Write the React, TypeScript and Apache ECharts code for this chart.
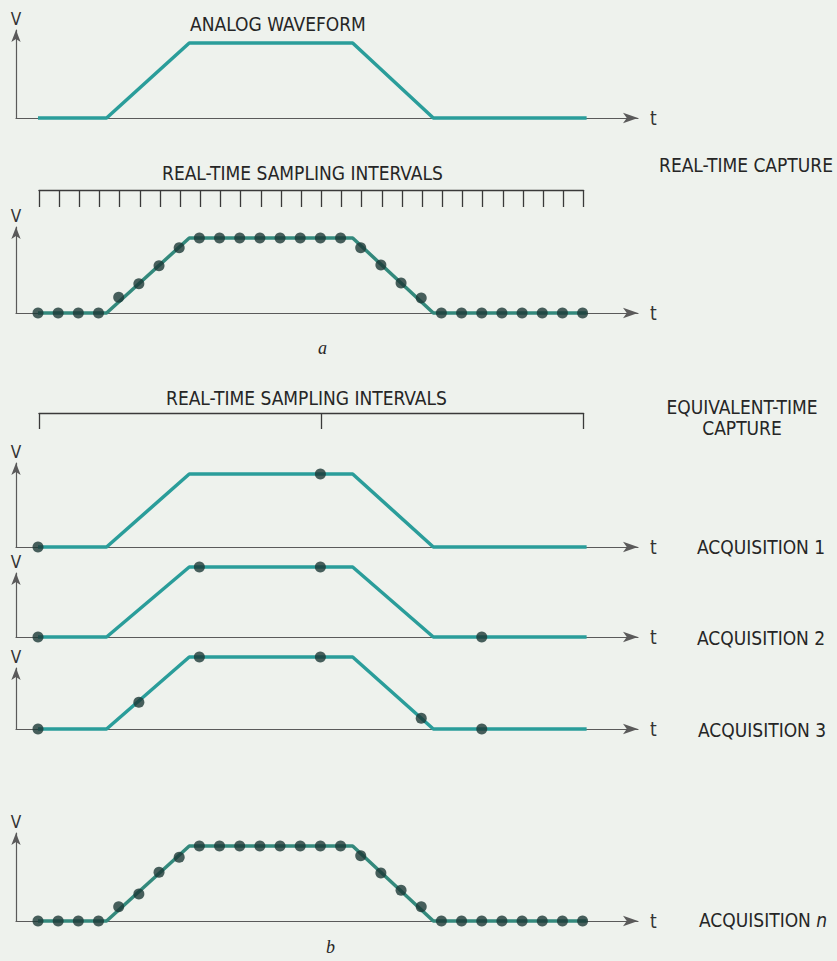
import React, { useEffect, useRef } from "react";
import * as echarts from "echarts";

// ---------- data ----------
// sample instants, one per real-time sampling interval
const sampleTimes = [0, 1, 2, 3, 4, 5, 6, 7, 8, 9, 10, 11, 12, 13, 14, 15, 16, 17, 18, 19, 20, 21, 22, 23, 24, 25, 26, 27];
// analog waveform breakpoints (time in sample units, level 0..1)
const waveTimes = [0, 3.4, 7.5, 15.6, 19.6, 27.2];
const waveLevels = [0, 0, 1, 1, 0, 0];
// real-time capture: one sample per interval
const realTimeLevels = [0, 0, 0, 0, 0.21, 0.39, 0.63, 0.87, 1, 1, 1, 1, 1, 1, 1, 1, 0.87, 0.64, 0.4, 0.2, 0, 0, 0, 0, 0, 0, 0, 0];
// equivalent-time capture: sampling interval (in sample units) and samples per acquisition
const equivalentInterval = 14;
const acq1Times = [0, 14];
const acq1Levels = [0, 1];
const acq2Times = [0, 8, 14, 22];
const acq2Levels = [0, 1, 1, 0];
const acq3Times = [0, 5, 8, 14, 19, 22];
const acq3Levels = [0, 0.37, 1, 1, 0.15, 0];
const acqNLevels = [0, 0, 0, 0, 0.19, 0.36, 0.65, 0.85, 1, 1, 1, 1, 1, 1, 1, 1, 0.87, 0.64, 0.41, 0.19, 0, 0, 0, 0, 0, 0, 0, 0];
const acquisitionLabels = ["ACQUISITION 1", "ACQUISITION 2", "ACQUISITION 3", "ACQUISITION {i|n}"];

// ---------- layout / style ----------
const FONT = '"Liberation Sans Narrow", "Arial Narrow", "DejaVu Sans Condensed", "Liberation Sans", sans-serif';
const TXT = "#262626";
const AXIS = "#5a5a5a";
const WAVE = "#2a9d9a";
const WAVE2 = "#33897c";
const DOT = "#1b3836";
const X0 = 38;
const STEP = 20.17;
const AX_L = 16;
const AX_R = 638;
const tMin = (AX_L - X0) / STEP;
const tMax = (AX_R - X0) / STEP;

// base = y of zero level, top = y of level 1, tip = y of the V arrow tip
const panels = [
  { base: 118, top: 43, tip: 30 },
  { base: 313, top: 238, tip: 227 },
  { base: 547, top: 474, tip: 463 },
  { base: 637, top: 567, tip: 573 },
  { base: 729, top: 657, tip: 668 },
  { base: 921, top: 846, tip: 833 },
];

export default function App() {
  const ref = useRef<HTMLDivElement>(null);
  useEffect(() => {
    if (!ref.current) return;
    const chart = echarts.init(ref.current, null, { renderer: "svg" });
    const grids: any[] = [];
    const xAxes: any[] = [];
    const yAxes: any[] = [];
    const series: any[] = [];
    const wave = waveTimes.map((t, k) => [t, waveLevels[k]]);

    const addPanel = (p: any) => {
      const idx = grids.length;
      grids.push({ left: AX_L, width: AX_R - AX_L, top: p.tip, height: p.base - p.tip });
      xAxes.push({
        gridIndex: idx, type: "value", min: tMin, max: tMax,
        name: "t", nameLocation: "end", nameGap: 12,
        nameTextStyle: { color: "#333", fontSize: 19, fontFamily: FONT, padding: [6, 0, 0, 0] },
        axisLine: { show: true, onZero: false, symbol: ["none", "arrow"], symbolSize: [8, 15], symbolOffset: [0, 0], lineStyle: { color: AXIS, width: 1.2 } },
        axisTick: { show: false }, axisLabel: { show: false }, splitLine: { show: false },
      });
      yAxes.push({
        gridIndex: idx, type: "value", min: 0, max: (p.base - p.tip) / (p.base - p.top),
        name: "V", nameLocation: "end", nameGap: 3,
        nameTextStyle: { color: "#333", fontSize: 17, fontFamily: FONT, align: "center" },
        axisLine: { show: true, onZero: false, symbol: ["none", "arrow"], symbolSize: [7, 12], lineStyle: { color: AXIS, width: 1.2 } },
        axisTick: { show: false }, axisLabel: { show: false }, splitLine: { show: false },
      });
      return idx;
    };
    const addComb = (top: number, interval: number, tickLen: number) => {
      const idx = grids.length;
      grids.push({ left: X0 + 1, width: 27 * STEP, top, height: 20 });
      xAxes.push({
        gridIndex: idx, type: "value", position: "top", min: sampleTimes[0], max: sampleTimes[sampleTimes.length - 1], interval,
        axisLine: { show: true, onZero: false, lineStyle: { color: "#3a3a3a", width: 1.3 } },
        axisTick: { show: true, inside: true, length: tickLen, lineStyle: { color: "#3a3a3a", width: 1.3 } },
        axisLabel: { show: false }, splitLine: { show: false },
      });
      yAxes.push({ gridIndex: idx, type: "value", show: false, min: 0, max: 1 });
      return idx;
    };
    const addWave = (idx: number, color: string) => {
      series.push({
        type: "line", xAxisIndex: idx, yAxisIndex: idx, data: wave, symbol: "none", clip: false, silent: true,
        lineStyle: { color, width: 3.5 }, z: 2,
      });
    };
    const addDots = (idx: number, times: number[], levels: number[]) => {
      series.push({
        type: "scatter", xAxisIndex: idx, yAxisIndex: idx, data: times.map((t, k) => [t, levels[k]]),
        symbol: "circle", symbolSize: 11, clip: false, silent: true,
        itemStyle: { color: DOT }, z: 3,
      });
    };

    const p1 = addPanel(panels[0]);
    addWave(p1, WAVE);
    addComb(190, 1, 17);
    const p2 = addPanel(panels[1]);
    addWave(p2, WAVE2);
    addDots(p2, sampleTimes, realTimeLevels);
    addComb(413, equivalentInterval, 16);
    const a1 = addPanel(panels[2]);
    addWave(a1, WAVE);
    addDots(a1, acq1Times, acq1Levels);
    const a2 = addPanel(panels[3]);
    addWave(a2, WAVE);
    addDots(a2, acq2Times, acq2Levels);
    const a3 = addPanel(panels[4]);
    addWave(a3, WAVE);
    addDots(a3, acq3Times, acq3Levels);
    const an = addPanel(panels[5]);
    addWave(an, WAVE2);
    addDots(an, sampleTimes, acqNLevels);

    const txt = (text: string, x: number, y: number, opts: any = {}) => ({
      type: "text", silent: true,
      style: {
        text, x, y, fill: TXT, fontSize: 19, fontFamily: FONT,
        textAlign: "left", textVerticalAlign: "middle", ...opts,
      },
    });
    const italic = { fontStyle: "italic", fontFamily: '"Liberation Serif", "DejaVu Serif", serif', fontSize: 18 };

    const option: any = {
      animation: false,
      backgroundColor: "#eef2ed",
      grid: grids,
      xAxis: xAxes,
      yAxis: yAxes,
      series,
      graphic: [
        txt("ANALOG WAVEFORM", 190, 24),
        txt("REAL-TIME SAMPLING INTERVALS", 162, 173),
        txt("REAL-TIME CAPTURE", 833, 165, { textAlign: "right" }),
        txt("a", 318, 348, italic),
        txt("REAL-TIME SAMPLING INTERVALS", 166, 398),
        txt("EQUIVALENT-TIME", 742, 407, { textAlign: "center" }),
        txt("CAPTURE", 742, 428, { textAlign: "center" }),
        txt(acquisitionLabels[0], 697, 547),
        txt(acquisitionLabels[1], 697, 638),
        txt(acquisitionLabels[2], 698, 730),
        txt(acquisitionLabels[3], 699, 920, { rich: { i: { fontStyle: "italic", fontSize: 19, fontFamily: FONT, fill: TXT } } }),
        txt("b", 326, 947, italic),
      ],
    };
    chart.setOption(option);
    return () => chart.dispose();
  }, []);
  return <div ref={ref} style={{ position: "fixed", left: 0, top: 0, width: 837, height: 961 }} />;
}
